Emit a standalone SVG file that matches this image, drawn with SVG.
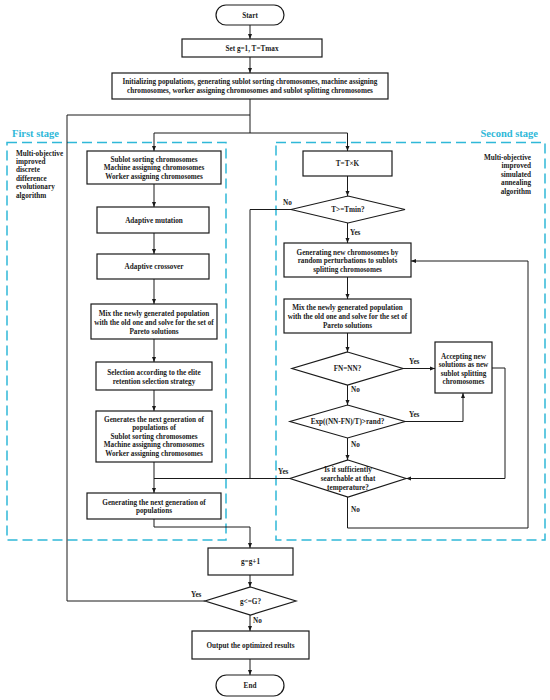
<svg xmlns="http://www.w3.org/2000/svg" width="550" height="700" viewBox="0 0 550 700">
<defs>
<marker id="ah" viewBox="0 0 10 10" refX="10" refY="5" markerWidth="5" markerHeight="5" orient="auto" markerUnits="userSpaceOnUse"><path d="M0,1 L10,5 L0,9 z" fill="#1a1a1a"/></marker>
<style>
.b{fill:#fff;stroke:#1a1a1a;stroke-width:1.2}
.t{font-family:"Liberation Serif","Times New Roman",serif;font-weight:bold;font-size:7.2px;fill:#1a1a1a;text-anchor:middle}
.l{font-family:"Liberation Serif","Times New Roman",serif;font-weight:bold;font-size:7.2px;fill:#1a1a1a}
.st{font-family:"Liberation Serif","Times New Roman",serif;font-weight:bold;font-size:10.5px;fill:#2fb8d8}
.dash{fill:none;stroke:#2fb8d8;stroke-width:1.5;stroke-dasharray:10 5}
.c{fill:none;stroke:#1a1a1a;stroke-width:1}
.a{marker-end:url(#ah)}
</style>
</defs>
<rect width="550" height="700" fill="#fff"/>
<g id="stages">
<rect class="dash" x="7" y="142.5" width="219" height="397.5"/>
<rect class="dash" x="276" y="142.5" width="269" height="397.5"/>
<text class="st" x="12" y="137">First stage</text>
<text class="st" x="538" y="137" text-anchor="end">Second stage</text>
<text class="l" x="16" y="155.5">Multi-objective</text>
<text class="l" x="16" y="164">improved</text>
<text class="l" x="16" y="172.4">discrete</text>
<text class="l" x="16" y="180.8">difference</text>
<text class="l" x="16" y="189.2">evolutionary</text>
<text class="l" x="16" y="197.6">algorithm</text>
<text class="l" x="531" y="159.5" text-anchor="end">Multi-objective</text>
<text class="l" x="531" y="168" text-anchor="end">improved</text>
<text class="l" x="531" y="176.5" text-anchor="end">simulated</text>
<text class="l" x="531" y="185" text-anchor="end">annealing</text>
<text class="l" x="531" y="193.5" text-anchor="end">algorithm</text>
</g>
<g id="connectors">
<path class="c a" d="M250,25 V39"/>
<path class="c a" d="M250,57 V73"/>
<path class="c a" d="M250,99 V133 H154 V151"/>
<path class="c a" d="M250,133 H347.5 V151"/>
<path class="c" d="M205,601 H67 V115 H250"/>
<path class="c a" d="M154,184 V207"/>
<path class="c a" d="M154,233 V254"/>
<path class="c a" d="M154,279 V304"/>
<path class="c a" d="M154,339 V362"/>
<path class="c a" d="M154,390 V411"/>
<path class="c a" d="M154,462 V493"/>
<path class="c a" d="M154,519 V527 H250 V548"/>
<path class="c a" d="M250,575 V587"/>
<path class="c a" d="M250,615 V631"/>
<path class="c a" d="M250,659 V675"/>
<path class="c a" d="M347.5,176 V196"/>
<path class="c" d="M291,209.5 H250 V478.5"/>
<path class="c a" d="M347.5,223 V243"/>
<path class="c a" d="M347.5,277 V299"/>
<path class="c a" d="M347.5,333 V352"/>
<path class="c a" d="M403,368.5 H435"/>
<path class="c a" d="M347.5,385 V405"/>
<path class="c a" d="M405,421.5 H463 V393"/>
<path class="c a" d="M347.5,438 V460"/>
<path class="c a" d="M492,368 H505 V478.5 H406"/>
<path class="c" d="M290,478.5 H154"/>
<path class="c a" d="M347.5,497 V528 H528 V261 H411"/>
<text class="l" x="283" y="205">No</text>
<text class="l" x="350" y="235">Yes</text>
<text class="l" x="409" y="364">Yes</text>
<text class="l" x="351" y="392">No</text>
<text class="l" x="409" y="417">Yes</text>
<text class="l" x="351" y="447">No</text>
<text class="l" x="278" y="474">Yes</text>
<text class="l" x="351" y="512">No</text>
<text class="l" x="191" y="597">Yes</text>
<text class="l" x="253" y="623">No</text>
</g>
<g id="start"><rect class="b" x="216" y="5" width="68" height="20" rx="10"/><text class="t" x="250" y="17.5">Start</text></g>
<g id="set"><rect class="b" x="182" y="39" width="140" height="18"/><text class="t" x="252" y="50.5">Set g=1, T=Tmax</text></g>
<g id="init"><rect class="b" x="112" y="73" width="276" height="26"/><text class="t" x="250" y="84">Initializing populations, generating sublot sorting chromosomes, machine assigning</text><text class="t" x="250" y="93">chromosomes, worker assigning chromosomes and sublot splitting chromosomes</text></g>
<g id="sublot"><rect class="b" x="87" y="151" width="134" height="33"/><text class="t" x="154" y="161.5">Sublot sorting chromosomes</text><text class="t" x="154" y="170">Machine assigning chromosomes</text><text class="t" x="154" y="178.5">Worker assigning chromosomes</text></g>
<g id="mutation"><rect class="b" x="97" y="207" width="112" height="26"/><text class="t" x="154" y="222.5">Adaptive mutation</text></g>
<g id="crossover"><rect class="b" x="97" y="254" width="112" height="25"/><text class="t" x="154" y="269">Adaptive crossover</text></g>
<g id="mixL"><rect class="b" x="91" y="304" width="126" height="35"/><text class="t" x="154" y="315.5">Mix the newly generated population</text><text class="t" x="154" y="324.5">with the old one and solve for the set of</text><text class="t" x="154" y="333.5">Pareto solutions</text></g>
<g id="selection"><rect class="b" x="96" y="362" width="116" height="28"/><text class="t" x="154" y="374.5">Selection according to the elite</text><text class="t" x="154" y="383.5">retention selection strategy</text></g>
<g id="generates"><rect class="b" x="96" y="411" width="116" height="51"/><text class="t" x="154" y="421.5">Generates the next generation of</text><text class="t" x="154" y="430">populations of</text><text class="t" x="154" y="438.5">Sublot sorting chromosomes</text><text class="t" x="154" y="447">Machine assigning chromosomes</text><text class="t" x="154" y="455.5">Worker assigning chromosomes</text></g>
<g id="nextgen"><rect class="b" x="87" y="493" width="134" height="26"/><text class="t" x="154" y="504.5">Generating the next generation of</text><text class="t" x="154" y="513">populations</text></g>
<g id="ginc"><rect class="b" x="208" y="548" width="85" height="27"/><text class="t" x="250.5" y="564">g=g+1</text></g>
<g id="gcheck"><polygon class="b" points="250.5,587 296,601 250.5,615 205,601"/><text class="t" x="250.5" y="603.5">g&lt;=G?</text></g>
<g id="output"><rect class="b" x="192" y="631" width="117" height="28"/><text class="t" x="250.5" y="647.5">Output the optimized results</text></g>
<g id="end"><rect class="b" x="216" y="675" width="68" height="21" rx="10.5"/><text class="t" x="250" y="688">End</text></g>
<g id="tk"><rect class="b" x="303" y="151" width="89" height="25"/><text class="t" x="347.5" y="166">T=T×K</text></g>
<g id="tmin"><polygon class="b" points="348,196 405,209.5 348,223 291,209.5"/><text class="t" x="348" y="212">T&gt;=Tmin?</text></g>
<g id="newchrom"><rect class="b" x="284" y="243" width="127" height="34"/><text class="t" x="347.5" y="254.5">Generating new chromosomes by</text><text class="t" x="347.5" y="263">random perturbations to sublots</text><text class="t" x="347.5" y="271.5">splitting chromosomes</text></g>
<g id="mixR"><rect class="b" x="284" y="299" width="127" height="34"/><text class="t" x="347.5" y="309.5">Mix the newly generated population</text><text class="t" x="347.5" y="318.5">with the old one and solve for the set of</text><text class="t" x="347.5" y="327.5">Pareto solutions</text></g>
<g id="fnnn"><polygon class="b" points="347.5,352 403,368.5 347.5,385 292,368.5"/><text class="t" x="347.5" y="371">FN=NN?</text></g>
<g id="accept"><rect class="b" x="435" y="342" width="57" height="51"/><text class="t" x="463.5" y="358.5">Accepting new</text><text class="t" x="463.5" y="367">solutions as new</text><text class="t" x="463.5" y="375.5">sublot splitting</text><text class="t" x="463.5" y="384">chromosomes</text></g>
<g id="exp"><polygon class="b" points="347.5,405 405,421.5 347.5,438 290,421.5"/><text class="t" x="347.5" y="424">Exp((NN-FN)/T)&gt;rand?</text></g>
<g id="search"><polygon class="b" points="348,460 406,478.5 348,497 290,478.5"/><text class="t" x="348" y="472">Is it sufficiently</text><text class="t" x="348" y="481">searchable at that</text><text class="t" x="348" y="490">temperature?</text></g>
</svg>
